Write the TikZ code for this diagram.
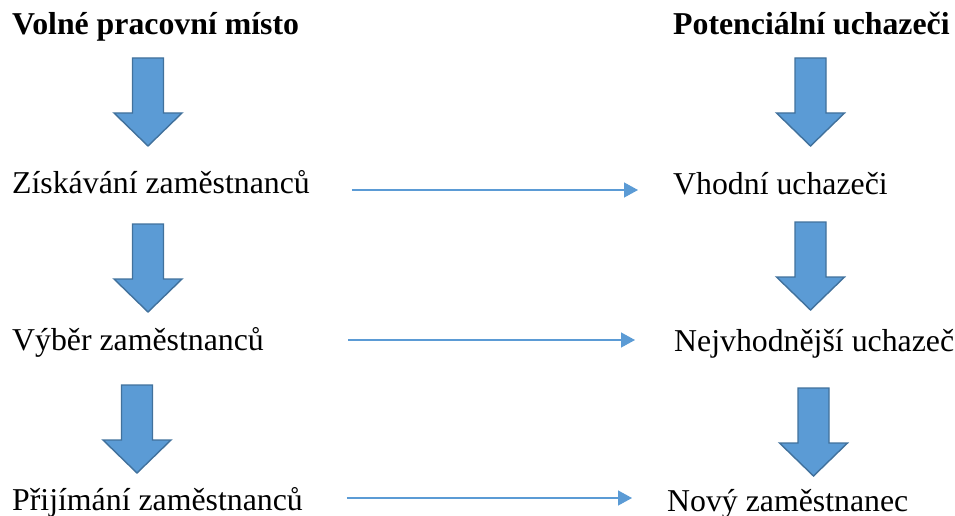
\documentclass[tikz,border=0pt]{standalone}
\usepackage{fontspec}
\setmainfont{Liberation Serif}
\usepackage{tikz}
\usetikzlibrary{positioning, calc, arrows.meta}

\definecolor{arrowblue}{HTML}{5B9BD5}
\definecolor{arrowline}{HTML}{41719C}

\begin{document}
\begin{tikzpicture}[x=1pt, y=-1pt,
    label/.style={inner sep=0pt, anchor=base west, font=\fontsize{31.8}{38}\selectfont},
    head/.style={label, font=\fontsize{31.8}{38}\selectfont\bfseries},
    flow/.style={-{Triangle[length=14pt, width=15pt]}, color=arrowblue, line width=1.3pt},
    blockarrow/.pic={
      \draw[fill=arrowblue, draw=arrowline, line width=1.4pt, line join=miter]
        (-15.5,0) -- (15.5,0) -- (15.5,55) -- (34,55) -- (0,88) -- (-34,55) -- (-15.5,55) -- cycle;
    },
  ]
  \useasboundingbox (0,0) rectangle (955,516);

  % left column
  \node[head]  (misto)  at (12,35)  {Volné pracovní místo};
  \node[label] (ziskani) at (12,193) {Získávání zaměstnanců};
  \node[label] (vyber)   at (12,350) {Výběr zaměstnanců};
  \node[label] (prijeti) at (12,510) {Přijímání zaměstnanců};

  % right column
  \node[head]  (potencialni) at (673,35)  {Potenciální uchazeči};
  \node[label] (vhodni)      at (673,194) {Vhodní uchazeči};
  \node[label] (nejvhodnejsi) at (674,351) {Nejvhodnější uchazeč};
  \node[label] (novy)        at (667,511) {Nový zaměstnanec};

  % block arrows
  \pic at (148,58)   {blockarrow};
  \pic at (148,224)  {blockarrow};
  \pic at (137,385)  {blockarrow};
  \pic at (810.5,58) {blockarrow};
  \pic at (810.5,222) {blockarrow};
  \pic at (813.5,388) {blockarrow};

  % thin arrows
  \draw[flow] ([xshift=42pt,yshift=3pt]ziskani.base east) -- ([xshift=-35pt,yshift=4pt]vhodni.base west);
  \draw[flow] ([xshift=84pt,yshift=10pt]vyber.base east) -- ([xshift=-39pt,yshift=11pt]nejvhodnejsi.base west);
  \draw[flow] ([xshift=44pt,yshift=12pt]prijeti.base east) -- ([xshift=-35pt,yshift=13pt]novy.base west);
\end{tikzpicture}
\end{document}
